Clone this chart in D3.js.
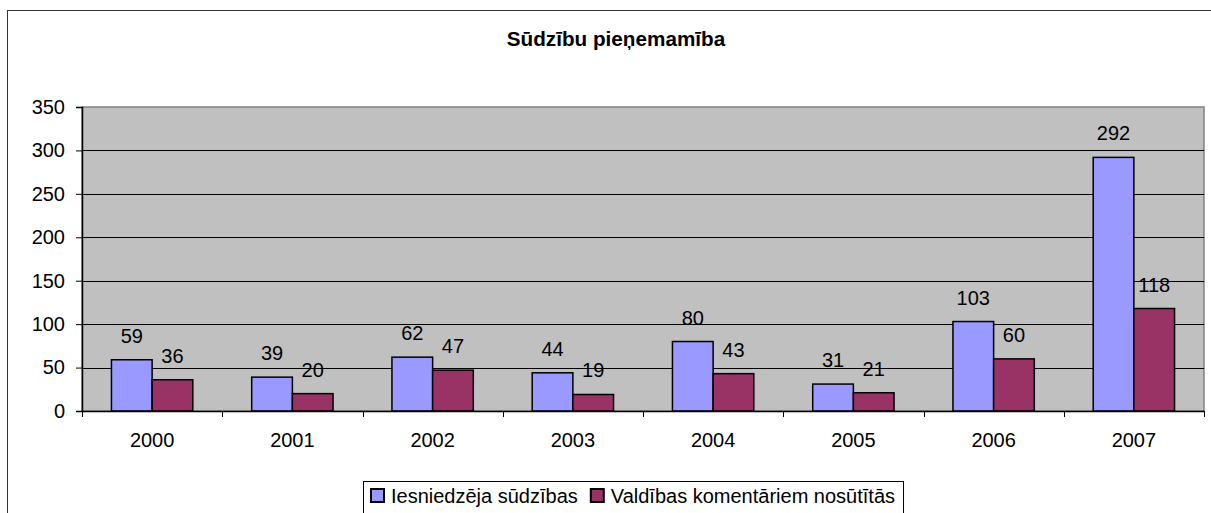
<!DOCTYPE html>
<html>
<head>
<meta charset="utf-8">
<script src="https://cdn.jsdelivr.net/npm/d3@7"></script>
<style>
  body { margin: 0; background: #fff; }
  svg text { font-family: "Liberation Sans", Arial, sans-serif; fill: #000; }
</style>
</head>
<body>
<svg id="chart" width="1211" height="513"></svg>
<script>
const years = ["2000", "2001", "2002", "2003", "2004", "2005", "2006", "2007"];
const submitted = [59, 39, 62, 44, 80, 31, 103, 292];
const forwarded = [36, 20, 47, 19, 43, 21, 60, 118];
const seriesNames = ["Iesniedzēja sūdzības", "Valdības komentāriem nosūtītās"];
const seriesColors = ["#9999ff", "#993366"];
const yTicks = [0, 50, 100, 150, 200, 250, 300, 350];
const title = "Sūdzību pieņemamība";

const svg = d3.select("#chart");
const plot = {left: 82, top: 107, right: 1204, bottom: 411};
const fs = 20;

// outer chart frame (runs off the right and bottom edges)
svg.append("rect")
  .attr("x", 7.5).attr("y", 10.5)
  .attr("width", 1220).attr("height", 520)
  .attr("fill", "#fff").attr("stroke", "#333").attr("stroke-width", 1);

svg.append("text")
  .attr("x", 616).attr("y", 46)
  .attr("text-anchor", "middle")
  .attr("font-size", 20.7).attr("font-weight", "bold")
  .text(title);

const x = d3.scaleBand().domain(years).range([plot.left, plot.right]);
const y = d3.scaleLinear().domain([0, 350]).range([plot.bottom, plot.top]);
const barW = x.bandwidth() * 0.29;
const gap = (x.bandwidth() - 2 * barW) / 2;

svg.append("rect")
  .attr("x", plot.left).attr("y", plot.top)
  .attr("width", plot.right - plot.left).attr("height", plot.bottom - plot.top)
  .attr("fill", "#c0c0c0").attr("stroke", "#808080").attr("stroke-width", 1.5);

// gridlines
svg.append("g")
  .selectAll("line")
  .data(yTicks.filter(d => d > 0 && d < 350))
  .join("line")
  .attr("x1", plot.left).attr("x2", plot.right)
  .attr("y1", d => Math.round(y(d)) + 0.5).attr("y2", d => Math.round(y(d)) + 0.5)
  .attr("stroke", "#000").attr("stroke-width", 1);

// bars
const data = years.map((yr, i) => ({yr, vals: [submitted[i], forwarded[i]]}));
const groups = svg.append("g").selectAll("g")
  .data(data)
  .join("g")
  .attr("transform", d => `translate(${x(d.yr) + gap},0)`);

groups.selectAll("rect")
  .data(d => d.vals.map((v, k) => ({v, k})))
  .join("rect")
  .attr("x", d => d.k * barW)
  .attr("y", d => y(d.v))
  .attr("width", barW)
  .attr("height", d => y(0) - y(d.v))
  .attr("fill", d => seriesColors[d.k])
  .attr("stroke", "#000").attr("stroke-width", 1.5);

groups.selectAll("text")
  .data(d => d.vals.map((v, k) => ({v, k})))
  .join("text")
  .attr("x", d => d.k * barW + barW / 2)
  .attr("y", d => y(d.v) - 17)
  .attr("text-anchor", "middle")
  .attr("font-size", fs)
  .text(d => d.v);

// y axis
const yAxis = svg.append("g")
  .attr("transform", `translate(${plot.left},0)`)
  .call(d3.axisLeft(y).tickValues(yTicks).tickSize(6).tickPadding(11));
yAxis.select(".domain").attr("stroke", "#000").attr("stroke-width", 1.5);
yAxis.selectAll(".tick line").attr("stroke", "#000");
yAxis.selectAll("text").attr("font-size", fs).attr("font-family", null);

// x axis, ticks at band boundaries
const xAxis = svg.append("g")
  .attr("transform", `translate(0,${plot.bottom})`)
  .call(d3.axisBottom(x).tickSize(0).tickPadding(22));
xAxis.select(".domain").attr("stroke", "#000").attr("stroke-width", 1.5);
xAxis.selectAll("text").attr("font-size", fs).attr("font-family", null);
xAxis.selectAll("line.sep")
  .data(years.map(yr => x(yr)).concat([plot.right]))
  .join("line")
  .attr("class", "sep")
  .attr("x1", d => Math.round(d) + 0.5).attr("x2", d => Math.round(d) + 0.5)
  .attr("y1", 0).attr("y2", 6)
  .attr("stroke", "#000");

// legend, items laid out one after another
const legend = svg.append("g");
const legBox = legend.append("rect")
  .attr("x", 363.5).attr("y", 481.5)
  .attr("height", 40)
  .attr("fill", "#fff").attr("stroke", "#000").attr("stroke-width", 1);
let legX = 370;
seriesNames.forEach((name, k) => {
  legend.append("rect")
    .attr("x", legX + 1).attr("y", 489)
    .attr("width", 13).attr("height", 13)
    .attr("fill", seriesColors[k]).attr("stroke", "#000").attr("stroke-width", 2);
  const t = legend.append("text")
    .attr("x", legX + 21).attr("y", 503)
    .attr("font-size", fs)
    .text(name);
  legX += 21 + t.node().getComputedTextLength() + 12;
});
legBox.attr("width", legX - 363 - 4);
</script>
</body>
</html>
